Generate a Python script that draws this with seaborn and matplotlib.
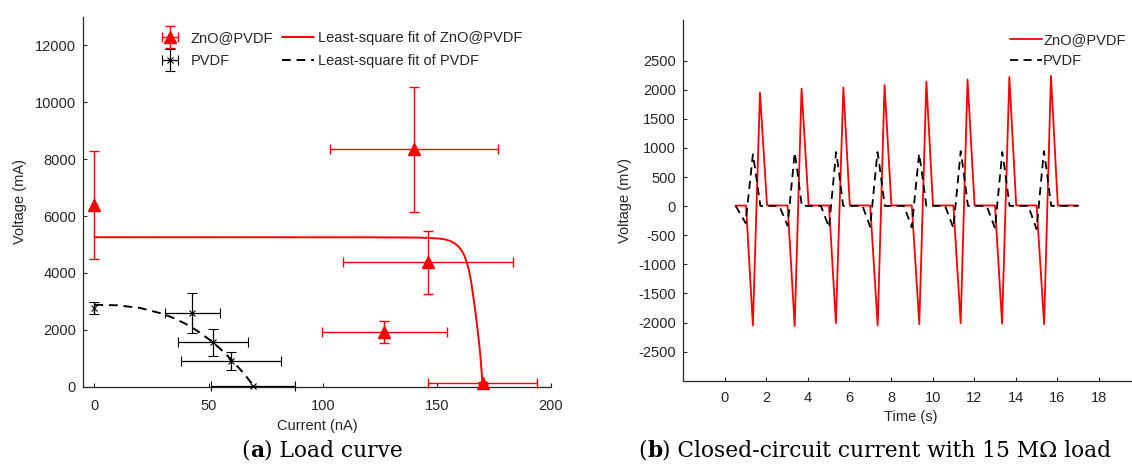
import matplotlib
matplotlib.use("Agg")
import matplotlib.pyplot as plt
import seaborn as sns
import pandas as pd
from matplotlib.legend_handler import HandlerErrorbar
from matplotlib.offsetbox import TextArea, HPacker, AnchoredOffsetbox

# ---- (a) load curve: measured points with error bars ----
zno_current = [0, 140, 146, 127, 170]
zno_voltage = [6400, 8350, 4380, 1930, 120]
zno_current_err = [0, 36.7, 37.3, 27.5, 23.8]
zno_voltage_err = [1900, 2190, 1110, 390, 40]

pvdf_current = [0, 42.8, 51.9, 59.9, 69.4]
pvdf_voltage = [2770, 2590, 1555, 912, 10]
pvdf_current_err = [0, 12.0, 15.5, 22.0, 18.5]
pvdf_voltage_err = [220, 690, 475, 320, 0]

# least-square fit curves
zno_fit_current = [0, 120, 140, 145, 150, 152, 154, 156, 158, 159.5, 161,
                   162, 163, 164, 165, 166, 167, 168, 169, 170]
zno_fit_voltage = [5255, 5253, 5245, 5235, 5215, 5200, 5170, 5120, 5030,
                   4930, 4770, 4620, 4400, 4120, 3700, 3150, 2550, 1900,
                   1150, 119]
pvdf_fit_current = [0, 10, 20, 30, 35, 40, 45, 50, 55, 60, 65, 67.5, 70]
pvdf_fit_voltage = [2880, 2862, 2769, 2562, 2405, 2208, 1967, 1679, 1342,
                    951, 505, 260, 0]

# ---- (b) closed-circuit signal under 15 MOhm load ----
zno_time = [0.53, 1.03, 1.36, 1.70, 2.04,
            3.03, 3.37, 3.70, 4.04,
            5.02, 5.35, 5.71, 6.02,
            7.00, 7.36, 7.69, 8.02,
            9.00, 9.36, 9.70, 10.02,
            11.00, 11.35, 11.68, 12.02,
            13.00, 13.34, 13.69, 14.02,
            15.00, 15.36, 15.69, 16.02,
            17.00]
zno_signal = [10, 10, -2050, 1950, 12,
              12, -2060, 2020, 12,
              12, -2010, 2040, 12,
              12, -2050, 2080, 12,
              12, -2030, 2140, 12,
              12, -2010, 2175, 12,
              12, -2020, 2220, 12,
              12, -2030, 2240, 12,
              12]

pvdf_time = [0.53, 1.01, 1.36, 1.46, 1.72,
             2.63, 3.03, 3.37, 3.47, 3.71,
             4.63, 5.02, 5.36, 5.46, 5.70,
             6.63, 7.00, 7.35, 7.45, 7.70,
             8.62, 9.00, 9.35, 9.45, 9.70,
             10.60, 11.00, 11.35, 11.45, 11.70,
             12.60, 13.00, 13.35, 13.45, 13.70,
             14.60, 15.00, 15.35, 15.45, 15.70,
             17.00]
pvdf_signal = [5, -290, 890, 660, 5,
               5, -335, 920, 680, 5,
               5, -365, 930, 690, 5,
               5, -355, 930, 690, 5,
               5, -365, 900, 670, 5,
               5, -375, 945, 700, 5,
               5, -380, 930, 690, 5,
               5, -395, 945, 700, 5,
               5]

sns.set_theme(style="ticks")
TXT = "#262626"
plt.rcParams.update({
    "font.family": ["Liberation Sans", "DejaVu Sans"],
    "font.size": 10.5,
    "axes.edgecolor": TXT,
    "axes.labelcolor": TXT,
    "xtick.color": TXT,
    "ytick.color": TXT,
    "axes.linewidth": 0.9,
    "axes.unicode_minus": False,
})

W, H = 1132, 466
fig = plt.figure(figsize=(W / 100, H / 100), dpi=100)
ax1 = fig.add_axes([83 / W, 1 - 386.7 / H, (551 - 83) / W, (386.7 - 17) / H])
ax2 = fig.add_axes([683 / W, 1 - 380.7 / H, (1140.6 - 683) / W, (380.7 - 20) / H])

for ax in (ax1, ax2):
    ax.set_facecolor("white")
    sns.despine(ax=ax)
    ax.tick_params(direction="in", length=3, width=0.8, labelsize=10.5,
                   colors=TXT)
    ax.tick_params(axis="y", pad=5)
ax1.tick_params(axis="x", pad=9)
ax2.tick_params(axis="x", pad=7.5)

# ---------- panel (a) ----------
red = "#ff0000"
eb_zno = ax1.errorbar(zno_current, zno_voltage, xerr=zno_current_err,
                      yerr=zno_voltage_err, fmt="^", color=red, ecolor=red,
                      markersize=8, elinewidth=1.0, capsize=3.5, capthick=1.0,
                      label="ZnO@PVDF", zorder=3)
eb_pvdf = ax1.errorbar(pvdf_current, pvdf_voltage, xerr=pvdf_current_err,
                       yerr=pvdf_voltage_err, fmt="x", color="black",
                       ecolor="black", markersize=5, markeredgewidth=0.8,
                       elinewidth=0.9, capsize=3.5, capthick=0.9,
                       label="PVDF", zorder=3)
for cont in (eb_zno, eb_pvdf):
    for art in cont.get_children():
        art.set_clip_on(False)

fit_zno = pd.DataFrame({"current": zno_fit_current, "voltage": zno_fit_voltage})
fit_pvdf = pd.DataFrame({"current": pvdf_fit_current, "voltage": pvdf_fit_voltage})
sns.lineplot(data=fit_zno, x="current", y="voltage", ax=ax1, color=red,
             linewidth=1.4, estimator=None, sort=False,
             label="Least-square fit of ZnO@PVDF", legend=False)
sns.lineplot(data=fit_pvdf, x="current", y="voltage", ax=ax1, color="black",
             linewidth=1.4, linestyle="--", estimator=None, sort=False,
             label="Least-square fit of PVDF", legend=False)
line_fit_zno, line_fit_pvdf = ax1.get_lines()[-2:]
line_fit_pvdf.set_dashes((4.5, 3))
line_fit_pvdf.set_clip_on(False)
line_fit_zno.set_clip_on(False)

ax1.set_xlim(-5, 200)
ax1.set_ylim(0, 13000)
ax1.set_xticks([0, 50, 100, 150, 200])
ax1.set_yticks(range(0, 12001, 2000))
ax1.set_xlabel("Current (nA)", fontsize=10.5)
ax1.set_ylabel("Voltage (mA)", fontsize=10.5)
ax1.xaxis.set_label_coords(0.5, -0.088)
ax1.yaxis.set_label_coords(-(83 - 27) / 468, 0.5)

leg1 = ax1.legend([eb_zno, eb_pvdf, line_fit_zno, line_fit_pvdf],
                  ["ZnO@PVDF", "PVDF", "Least-square fit of ZnO@PVDF",
                   "Least-square fit of PVDF"],
                  ncol=2, frameon=False, loc="upper left",
                  bbox_to_anchor=(154 / W, 1 - 31 / H),
                  bbox_transform=fig.transFigure, borderpad=0,
                  borderaxespad=0, handlelength=2.2, handletextpad=0.3,
                  columnspacing=0.6, labelspacing=0.62, fontsize=10.5,
                  handler_map={type(eb_zno): HandlerErrorbar(xerr_size=0.55,
                                                             yerr_size=0.75)})
for t in leg1.get_texts():
    t.set_color(TXT)

# ---------- panel (b) ----------
sig_zno = pd.DataFrame({"time": zno_time, "signal": zno_signal})
sig_pvdf = pd.DataFrame({"time": pvdf_time, "signal": pvdf_signal})
sns.lineplot(data=sig_zno, x="time", y="signal", ax=ax2, color=red,
             linewidth=1.3, estimator=None, sort=False, label="ZnO@PVDF",
             legend=False)
sns.lineplot(data=sig_pvdf, x="time", y="signal", ax=ax2, color="black",
             linewidth=1.3, linestyle="--", estimator=None, sort=False,
             label="PVDF", legend=False)
l_zno, l_pvdf = ax2.get_lines()[-2:]
l_pvdf.set_dashes((4.5, 3))

ax2.set_xlim(-2, 20)
ax2.set_ylim(-3000, 3200)
ax2.set_xticks(range(0, 19, 2))
ax2.set_yticks(range(-2500, 2501, 500))
ax2.set_xlabel("Time (s)", fontsize=10.5)
ax2.set_ylabel("Voltage (mV)", fontsize=10.5)
ax2.xaxis.set_label_coords((911 - 683) / 457.6, -0.08)
ax2.yaxis.set_label_coords(-(683 - 632) / 457.6, 0.5)

leg2 = ax2.legend([l_zno, l_pvdf], ["ZnO@PVDF", "PVDF"], frameon=False,
                  loc="upper left", bbox_to_anchor=(1010 / W, 1 - 33.5 / H),
                  bbox_transform=fig.transFigure, borderpad=0,
                  borderaxespad=0, handlelength=2.2, handletextpad=0.08,
                  labelspacing=0.42, fontsize=10.5)
for t in leg2.get_texts():
    t.set_color(TXT)


# ---------- captions ----------
def caption(letter, rest, xc, yc):
    props = dict(family="DejaVu Serif", size=15.7, color="black")
    parts = [TextArea("(", textprops=props),
             TextArea(letter, textprops={**props, "weight": "bold"}),
             TextArea(") " + rest, textprops=props)]
    box = HPacker(children=parts, align="baseline", pad=0, sep=0)
    anchored = AnchoredOffsetbox(loc="center", child=box, pad=0,
                                 frameon=False, bbox_to_anchor=(xc / W, 1 - yc / H),
                                 bbox_transform=fig.transFigure, borderpad=0)
    fig.add_artist(anchored)


caption("a", "Load curve", 322, 451)
caption("b", "Closed-circuit current with 15 M\u03a9 load", 875, 451)

fig.savefig("out.png", dpi=100, facecolor="white")
